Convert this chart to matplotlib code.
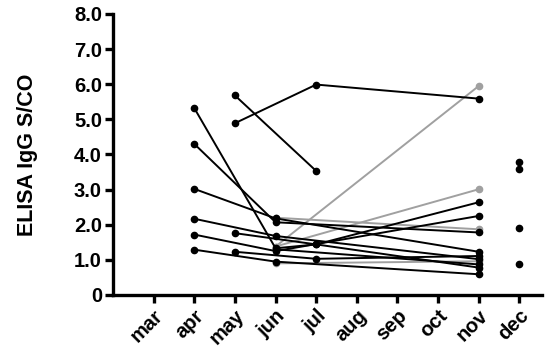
import matplotlib
matplotlib.use("Agg")
import matplotlib.pyplot as plt
import numpy as np

plt.rcParams['font.family'] = ['Liberation Sans', 'DejaVu Sans']
plt.rcParams['font.weight'] = 'bold'

months = ['mar', 'apr', 'may', 'jun', 'jul', 'aug', 'sep', 'oct', 'nov', 'dec']

# each series: (month indices, values)
black_series = [
    ([1, 3, 4, 8], [5.32, 1.33, 1.44, 2.64]),
    ([1, 3, 8], [4.30, 2.07, 1.78]),
    ([1, 3, 8], [3.02, 2.18, 1.23]),
    ([1, 3, 8], [2.17, 1.68, 1.02]),
    ([1, 3, 8], [1.72, 1.25, 2.25]),
    ([1, 3, 8], [1.29, 0.95, 0.59]),
    ([2, 4], [5.68, 3.53]),
    ([2, 4, 8], [4.89, 5.99, 5.59]),
    ([2, 4, 8], [1.76, 1.44, 0.78]),
    ([2, 4, 8], [1.23, 1.03, 1.11]),
    ([3, 8], [1.30, 0.87]),
]
grey_series = [
    ([3, 8], [1.38, 5.95]),
    ([3, 8], [1.38, 3.01]),
    ([3, 8], [2.20, 1.87]),
    ([3, 8], [0.90, 0.96]),
]
dec_values = [3.78, 3.58, 1.92, 0.87]

fig = plt.figure(figsize=(5.5, 3.58), dpi=100)
ax = fig.add_axes([0.2055, 0.176, 0.7795, 0.785])

for xs, ys in grey_series:
    ax.plot(xs, ys, '-o', color='#a0a0a0', lw=1.4, ms=4.5, zorder=2)
for xs, ys in black_series:
    ax.plot(xs, ys, '-o', color='black', lw=1.4, ms=4.5, zorder=3)
ax.plot([9] * len(dec_values), dec_values, 'o', color='black', ms=4.5, zorder=3)

ax.set_xlim(-1, 9.55)
ax.set_ylim(0, 8)
ax.set_yticks(np.arange(0, 9))
ax.set_yticklabels(['0'] + ['%.1f' % v for v in range(1, 9)])
ax.set_xticks(range(len(months)))
ax.set_xticklabels(months, rotation=45, ha='right', rotation_mode='anchor')

for lab in ax.get_xticklabels() + ax.get_yticklabels():
    lab.set_fontsize(14.5)
    lab.set_fontweight('bold')

ax.set_ylabel('ELISA IgG S/CO', fontsize=15.5, fontweight='bold', labelpad=26)

for s in ['top', 'right']:
    ax.spines[s].set_visible(False)
for s in ['left', 'bottom']:
    ax.spines[s].set_linewidth(2.4)
ax.tick_params(width=2.4, length=6, direction='out', pad=2)

fig.savefig('out.png', dpi=100)
